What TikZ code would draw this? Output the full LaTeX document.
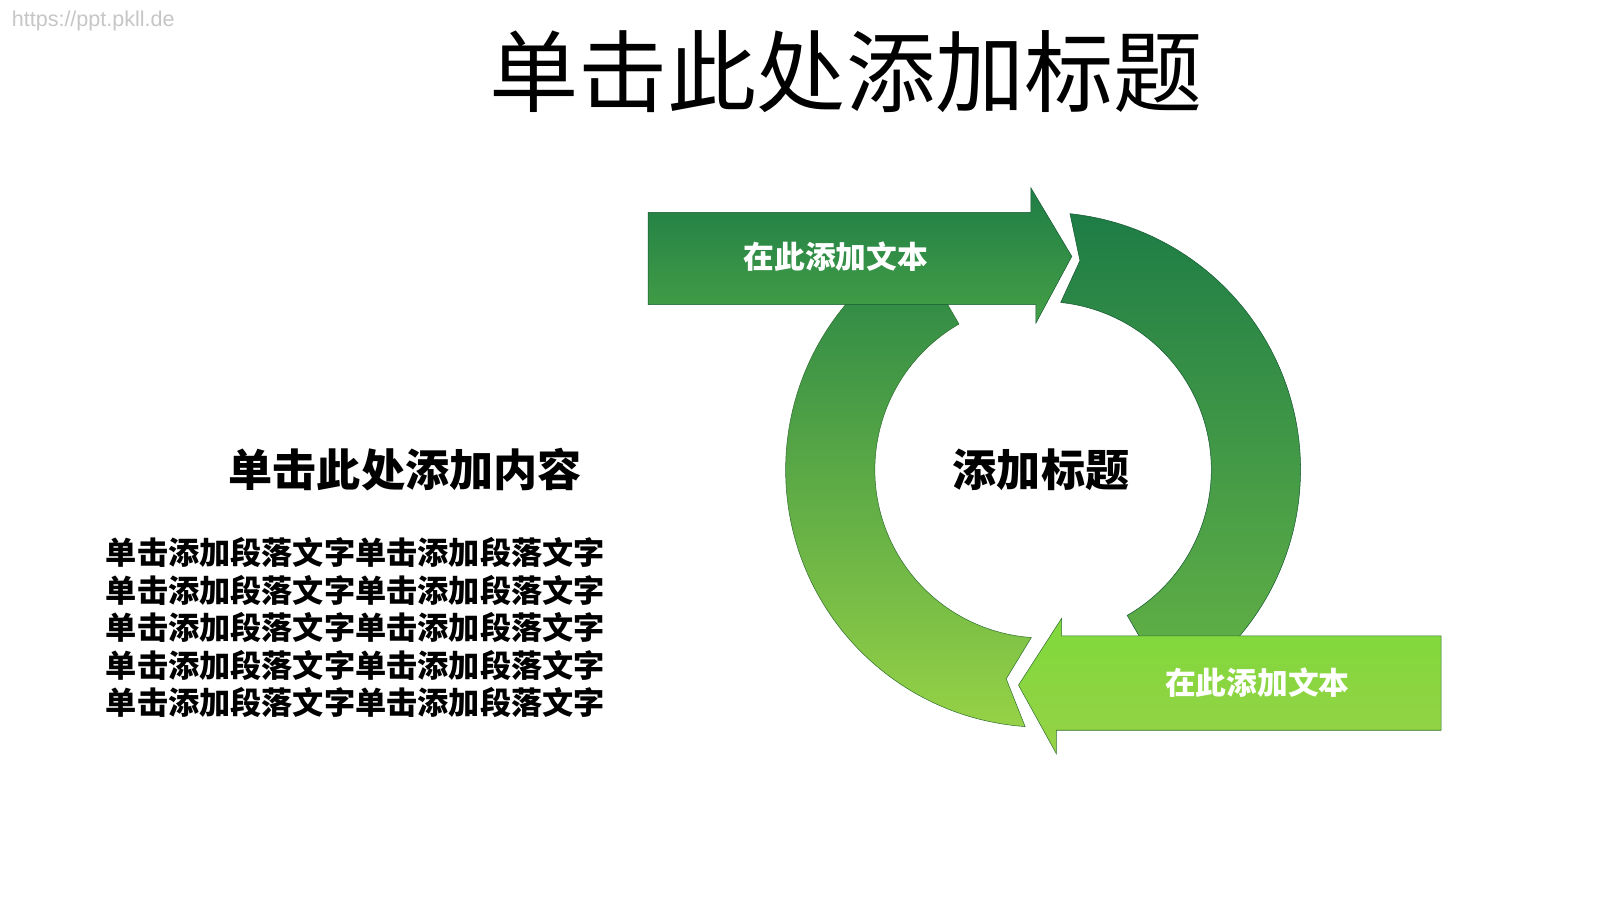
\documentclass[tikz,border=0pt]{standalone}
\usepackage{fontspec}
\newfontfamily\cjk{Noto Sans CJK SC}
\setmainfont{Liberation Sans}
\begin{document}
\begin{tikzpicture}[x=1pt,y=1pt,
  lbl/.style={font=\cjk\bfseries\fontsize{30}{34}\selectfont, text=white},
  para/.style={font=\cjk\bfseries\fontsize{30.4}{36.5}\selectfont, align=left, anchor=north west, inner sep=0pt}]
\definecolor{dg}{RGB}{30,125,70}
\definecolor{mg}{RGB}{70,160,70}
\definecolor{lg}{RGB}{150,210,70}
\useasboundingbox (0,0) rectangle (1560,877.5);
\fill[white] (0,0) rectangle (1560,877.5);
\begin{scope}[yshift=-22.5pt]
\def\cx{1017}\def\cy{442}\def\Ro{251}\def\Ri{164}
\shade[top color=dg, bottom color=mg!60!lg, draw=dg!70!black, line width=0.5pt]
  ({\cx+\Ro*cos(84)},{\cy+\Ro*sin(84)}) arc[start angle=84,end angle=-60,radius=\Ro]
  -- ({\cx+\Ri*cos(-60)},{\cy+\Ri*sin(-60)}) arc[start angle=-60,end angle=84,radius=\Ri]
  -- ({\cx+207*cos(80)},{\cy+207*sin(80)}) -- cycle;
\shade[top color=dg!80!mg, bottom color=lg, draw=mg!70!black, line width=0.5pt]
  ({\cx+\Ro*cos(-94)},{\cy+\Ro*sin(-94)}) arc[start angle=-94,end angle=-240,radius=\Ro]
  -- ({\cx+\Ri*cos(-240)},{\cy+\Ri*sin(-240)}) arc[start angle=-240,end angle=-94,radius=\Ri]
  -- ({\cx+207*cos(-100)},{\cy+207*sin(-100)}) -- cycle;
\shade[top color=dg, bottom color=mg, draw=dg!70!black, line width=0.5pt]
  (632,693) -- (1005,693) -- (1005,717) -- (1045,650) -- (1010,585) -- (1010,603) -- (632,603) -- cycle;
\node[lbl] (t1) at (815,650) {在此添加文本};
\shade[top color=lg!85!green, bottom color=lg, draw=mg!70!black, line width=0.5pt]
  (1405,280) -- (1035,280) -- (1035,297) -- (993,232) -- (1030,165) -- (1030,188) -- (1405,188) -- cycle;
\node[lbl] (t2) at (1226,234) {在此添加文本};
\node[text=gray!45, font=\fontsize{21}{24}\selectfont, anchor=west] (wm) at (8,880) {https://ppt.pkll.de};
\node[font=\cjk\fontsize{87}{96}\selectfont] (title) at (825,830) {单击此处添加标题};
\node[font=\cjk\bfseries\fontsize{43}{46}\selectfont] (ct) at (1015,442) {添加标题};
\node[font=\cjk\bfseries\fontsize{43}{46}\selectfont] (lt) at (395,442) {单击此处添加内容};
\node[para] (p) at (103,376) {单击添加段落文字单击添加段落文字\\单击添加段落文字单击添加段落文字\\单击添加段落文字单击添加段落文字\\单击添加段落文字单击添加段落文字\\单击添加段落文字单击添加段落文字};
\end{scope}
\end{tikzpicture}
\end{document}
